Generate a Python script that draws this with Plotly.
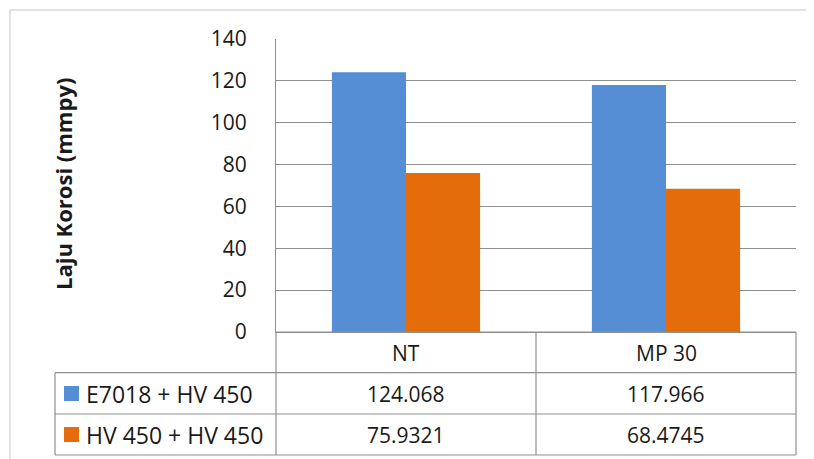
import plotly.graph_objects as go

categories = ["NT", "MP 30"]
series_names = ["E7018 + HV 450", "HV 450 + HV 450"]
e7018_hv450 = [124.068, 117.966]
hv450_hv450 = [75.9321, 68.4745]
y_ticks = [0, 20, 40, 60, 80, 100, 120, 140]
y_title = "Laju Korosi (mmpy)"

colors = ["#558ED5", "#E46C0A"]
series_values = [e7018_hv450, hv450_hv450]

OFF = 8  # page body margin
W, H = 814 - OFF, 459 - OFF
L, R, T, B = 276, 796, 39, 332  # reference pixel coords of plot area
pw, ph = R - L, B - T

def px(x):
    return (x - L) / pw

def py(y):
    return (B - y) / ph

FONT = "Open Sans"
TXT = "#1a1a1a"
GRID = "#8f8f8f"

fig = go.Figure()
for name, vals, c in zip(series_names, series_values, colors):
    fig.add_trace(go.Bar(x=categories, y=vals, name=name, marker=dict(color=c, line=dict(width=0))))

shapes = []
shapes.append(dict(type="rect", xref="paper", yref="paper", x0=px(10), x1=px(830), y0=py(10), y1=py(470),
                   line=dict(color="#d9d9d9", width=1.5), layer="below"))
line = dict(color=GRID, width=1.2)
row_y = [332, 372.7, 414, 455]
for i, yy in enumerate(row_y):
    x0 = L if i == 0 else 55
    shapes.append(dict(type="line", xref="paper", yref="paper", x0=px(x0), x1=px(R), y0=py(yy), y1=py(yy), line=line))
for xx in [L, (L + R) / 2, R]:
    shapes.append(dict(type="line", xref="paper", yref="paper", x0=px(xx), x1=px(xx), y0=py(332), y1=py(455), line=line))
shapes.append(dict(type="line", xref="paper", yref="paper", x0=px(55), x1=px(55), y0=py(372.7), y1=py(455), line=line))

annotations = []
row_centers = [352.5, 393.5, 434.5]
font = dict(family=FONT, size=21, color=TXT)
name_font = dict(family=FONT, size=23, color=TXT)
for cat in categories:
    annotations.append(dict(x=cat, xref="x", y=py(row_centers[0]), yref="paper", text=cat, showarrow=False,
                            font=font, xanchor="center", yanchor="middle"))
for r, (name, vals, c) in enumerate(zip(series_names, series_values, colors)):
    yc = row_centers[r + 1]
    shapes.append(dict(type="rect", xref="paper", yref="paper", x0=px(64), x1=px(79), y0=py(yc - 7.5), y1=py(yc + 7.5),
                       fillcolor=c, line=dict(width=0)))
    annotations.append(dict(x=px(84), xref="paper", y=py(yc), yref="paper", text=name, showarrow=False,
                            font=name_font, xanchor="left", yanchor="middle"))
    for cat, v in zip(categories, vals):
        annotations.append(dict(x=cat, xref="x", y=py(yc), yref="paper", text=str(v), showarrow=False,
                                font=font, xanchor="center", yanchor="middle"))

annotations.append(dict(x=px(63), xref="paper", y=py(184), yref="paper", text="<b>" + y_title + "</b>", textangle=-90,
                        showarrow=False, font=dict(family=FONT, size=22, color=TXT), xanchor="center", yanchor="middle"))

fig.update_layout(
    width=W, height=H,
    margin=dict(l=L - OFF, r=W - (R - OFF), t=T - OFF, b=H - (B - OFF), pad=0),
    paper_bgcolor="white", plot_bgcolor="white",
    barmode="group", bargap=0.43, bargroupgap=0,
    showlegend=False,
    font=dict(family=FONT, color=TXT),
    xaxis=dict(showticklabels=False, showgrid=False, showline=True, linecolor=GRID, linewidth=1.2, ticks="",
               zeroline=False),
    yaxis=dict(range=[0, 140], tickvals=y_ticks, showgrid=True, gridcolor=GRID, gridwidth=1.2,
               showline=True, linecolor=GRID, linewidth=1.2, zeroline=False, ticks="",
               tickfont=dict(family=FONT, size=21, color=TXT), ticklabelstandoff=24),
    shapes=shapes, annotations=annotations,
)

fig.write_html("out.html")
